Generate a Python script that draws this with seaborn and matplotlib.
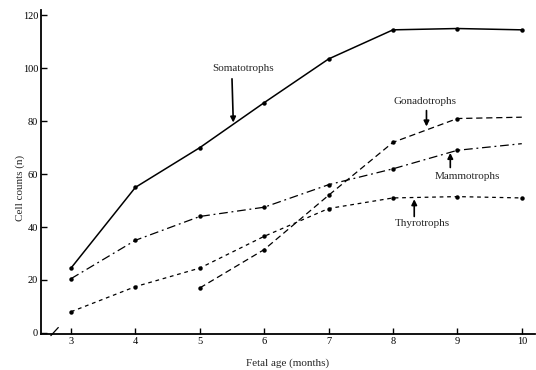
import matplotlib
matplotlib.use("Agg")
import matplotlib.pyplot as plt
import seaborn as sns
import pandas as pd

months = [3, 4, 5, 6, 7, 8, 9, 10]
somatotrophs = [24.5, 55, 70, 87, 103.5, 114.5, 115, 114.5]
mammotrophs = [20.5, 35, 44, 47.5, 56, 62, 69, 71.5]
gonado_months = [5, 6, 7, 8, 9, 10]
gonadotrophs = [17, 31.5, 52, 72, 81, 81.5]
thyrotrophs = [8, 17.5, 24.5, 36.5, 47, 51, 51.5, 51]
yticks = [0, 20, 40, 60, 80, 100, 120]

sns.set_theme(style="ticks")
plt.rcParams['font.family'] = ['Liberation Serif', 'DejaVu Serif']

fig = plt.figure(figsize=(5.36, 3.70), dpi=100)
ax = fig.add_axes([0.0765, 0.0973, 0.921, 0.8757])

common = dict(ax=ax, color="black", marker="o", markersize=3.2,
              markeredgewidth=0, legend=False)
sns.lineplot(x=months, y=somatotrophs, linewidth=1.1, linestyle="-", **common)
sns.lineplot(x=months, y=mammotrophs, linewidth=0.9,
             linestyle=(0, (7, 3, 1.5, 3)), markevery=list(range(7)), **common)
sns.lineplot(x=gonado_months, y=gonadotrophs, linewidth=0.9,
             linestyle=(0, (5, 3)), markevery=list(range(5)), **common)
sns.lineplot(x=months, y=thyrotrophs, linewidth=0.9,
             linestyle=(0, (3, 3)), **common)

ax.set_xlim(2.534, 10.2)
ax.set_ylim(-0.4, 122)
ax.set_xticks(months)
ax.set_xticklabels([str(m) for m in months], fontsize=7.5)
ax.set_yticks(yticks)
ax.set_yticklabels([str(t) for t in yticks], fontsize=7.5)
ax.tick_params(direction="in", length=4, width=1, pad=2, colors="black")
for s in ["top", "right"]:
    ax.spines[s].set_visible(False)
for s in ["left", "bottom"]:
    ax.spines[s].set_linewidth(1.3)
    ax.spines[s].set_color("black")

ax.set_xlabel("Fetal age (months)", fontsize=8, labelpad=9)
ax.set_ylabel("Cell counts (n)", fontsize=8, labelpad=3)
ax.yaxis.set_label_coords(-0.032, 0.45)

# axis break mark
ax.plot([0.02, 0.035], [-0.005, 0.02], transform=ax.transAxes, color="black",
        lw=0.9, clip_on=False)

arrow = dict(arrowstyle="-|>", color="black", lw=1.2, mutation_scale=8,
             shrinkA=0, shrinkB=0)
labels = ["Somatotrophs", "Gonadotrophs", "Mammotrophs", "Thyrotrophs"]
text_pos = [(5.67, 100), (8.5, 87.5), (9.16, 59), (8.45, 41.5)]
arrow_tail = [(5.5, 96), (8.52, 84), (8.89, 62.5), (8.33, 44)]
arrow_tip = [(5.52, 79.5), (8.52, 78), (8.89, 68), (8.33, 50.5)]
for lab, tp, tail, tip in zip(labels, text_pos, arrow_tail, arrow_tip):
    ax.text(tp[0], tp[1], lab, ha="center", va="center", fontsize=8)
    ax.annotate("", xy=tip, xytext=tail, arrowprops=arrow)

fig.savefig("out.png", dpi=100)
